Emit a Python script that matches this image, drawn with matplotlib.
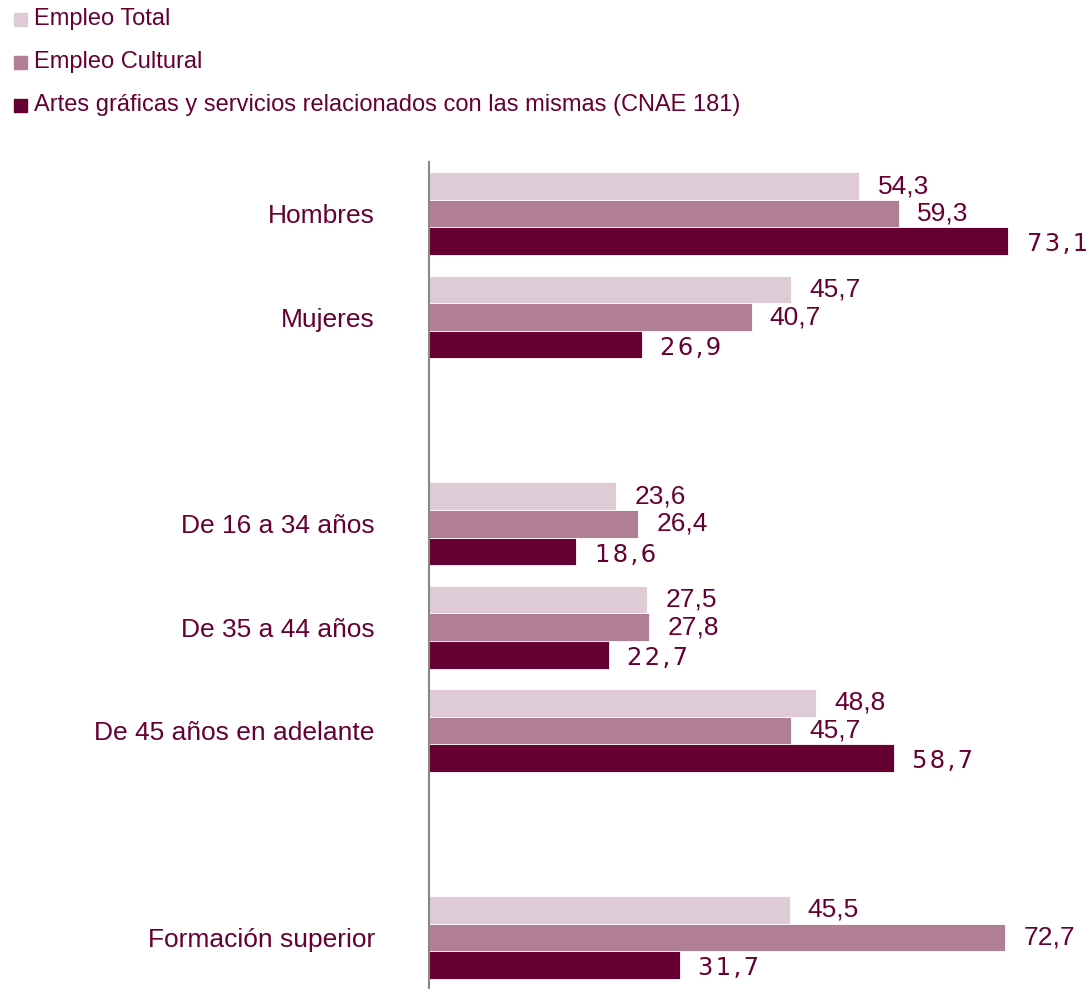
import numpy as np
import matplotlib
matplotlib.use('Agg')
import matplotlib.pyplot as plt
from matplotlib.patches import Rectangle

# data
categories = ["Hombres", "Mujeres", "", "De 16 a 34 años", "De 35 a 44 años",
              "De 45 años en adelante", "", "Formación superior"]
series_names = ["Empleo Total", "Empleo Cultural",
                "Artes gráficas y servicios relacionados con las mismas (CNAE 181)"]
empleo_total = [54.3, 45.7, None, 23.6, 27.5, 48.8, None, 45.5]
empleo_cultural = [59.3, 40.7, None, 26.4, 27.8, 45.7, None, 72.7]
artes_graficas = [73.1, 26.9, None, 18.6, 22.7, 58.7, None, 31.7]

colors = ["#DFCBD6", "#B07F96", "#660033"]
text_col = "#660033"

W, H = 1086, 989
fig = plt.figure(figsize=(W / 100, H / 100), dpi=100)
ax = fig.add_axes([429 / W, 0, (1063 - 429) / W, (989 - 162) / H])

bh = 0.267
offs = [-bh, 0, bh]
all_series = [empleo_total, empleo_cultural, artes_graficas]
for k, vals in enumerate(all_series):
    for i, v in enumerate(vals):
        if v is None:
            continue
        ax.barh(i + offs[k], v, height=bh, color=colors[k],
                edgecolor="white", linewidth=0.6)
        lab = f"{v:.1f}".replace(".", ",")
        if k < 2:
            ax.text(v + 2.3, i + offs[k], lab, va="center", ha="left",
                    fontsize=19, color=text_col, family="Liberation Sans")
        else:
            lab = "\u200a".join(lab)
            ax.text(v + 2.3, i + offs[k] + 0.03, lab, va="center", ha="left",
                    fontsize=17.5, color=text_col, family="DejaVu Sans")

ax.set_ylim(7.5, -0.5)
ax.set_xlim(0, 80)
ax.set_yticks(range(len(categories)))
ax.set_yticklabels(categories, fontsize=19, color=text_col,
                   family="Liberation Sans")
ax.tick_params(axis="y", length=0, pad=39)
ax.set_xticks([])
for s in ["top", "right", "bottom"]:
    ax.spines[s].set_visible(False)
ax.spines["left"].set_color("#888888")
ax.spines["left"].set_linewidth(1.5)

# legend
leg_y = [19, 62, 105]
for k, name in enumerate(series_names):
    y = leg_y[k]
    fig.patches.append(Rectangle((14 / W, 1 - (y + 7) / H), 13 / W, 13 / H,
                                 transform=fig.transFigure, color=colors[k]))
    fig.text(34 / W, 1 - y / H, name, va="center", ha="left", fontsize=17,
             color=text_col, family="Liberation Sans")

fig.savefig("out.png", dpi=100)
